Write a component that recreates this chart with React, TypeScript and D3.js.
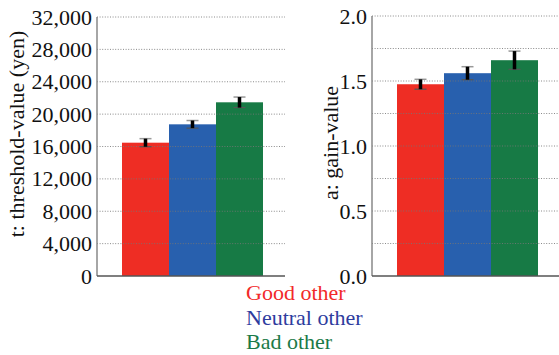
import React, { useRef, useEffect } from "react";
import * as d3 from "d3";

// data
const groups = ["Good other", "Neutral other", "Bad other"];
const thresholdMean = [16470, 18740, 21460];
const thresholdErr = [500, 470, 650];
const gainMean = [1.475, 1.56, 1.66];
const gainErr = [0.038, 0.05, 0.07];
const thresholdTicks = [0, 4000, 8000, 12000, 16000, 20000, 24000, 28000, 32000];
const gainTicks = [0, 0.5, 1.0, 1.5, 2.0];
const gainGrid = [0.25, 0.5, 0.75, 1.0, 1.25, 1.5, 1.75, 2.0];

const barColors = ["#ee2d24", "#2860ae", "#177a45"];
const legendColors = ["#f22a2a", "#2e3c9e", "#1b7a48"];
const FONT = "'Liberation Serif', 'DejaVu Serif', 'Times New Roman', Times, Tinos, FreeSerif, serif";

function drawPanel(g, opts) {
  const { x0, x1, barL, barR, top, bottom, domain, ticks, grid, fmt, means, errs, title, titleX, titleY } = opts;
  const y = d3.scaleLinear().domain(domain).range([bottom, top]);
  const x = d3.scaleBand().domain(groups).range([barL, barR]).padding(0);

  // bars
  g.selectAll(".bar")
    .data(means)
    .join("rect")
    .attr("class", "bar")
    .attr("x", (d, i) => x(groups[i]))
    .attr("y", (d) => y(d))
    .attr("width", x.bandwidth())
    .attr("height", (d) => bottom - y(d))
    .attr("fill", (d, i) => barColors[i]);

  // dotted grid on top
  g.selectAll(".grid")
    .data(grid)
    .join("line")
    .attr("class", "grid")
    .attr("x1", x0)
    .attr("x2", x1)
    .attr("y1", (d) => y(d))
    .attr("y2", (d) => y(d))
    .attr("stroke", "#777")
    .attr("stroke-width", 1)
    .attr("stroke-dasharray", "1,1.6")
    .attr("opacity", 0.85);

  // error bars
  const eb = g.selectAll(".err").data(means).join("g").attr("class", "err");
  eb.append("line")
    .attr("x1", (d, i) => x(groups[i]) + x.bandwidth() / 2 - 6)
    .attr("x2", (d, i) => x(groups[i]) + x.bandwidth() / 2 + 6)
    .attr("y1", (d, i) => y(d + errs[i]))
    .attr("y2", (d, i) => y(d + errs[i]))
    .attr("stroke", "#999")
    .attr("stroke-width", 1.5);
  eb.append("line")
    .attr("x1", (d, i) => x(groups[i]) + x.bandwidth() / 2 - 6)
    .attr("x2", (d, i) => x(groups[i]) + x.bandwidth() / 2 + 6)
    .attr("y1", (d, i) => y(d - errs[i]))
    .attr("y2", (d, i) => y(d - errs[i]))
    .attr("stroke", "#555")
    .attr("stroke-width", 1.2);
  eb.append("line")
    .attr("x1", (d, i) => x(groups[i]) + x.bandwidth() / 2)
    .attr("x2", (d, i) => x(groups[i]) + x.bandwidth() / 2)
    .attr("y1", (d, i) => y(d + errs[i]))
    .attr("y2", (d, i) => y(d - errs[i]))
    .attr("stroke", "#000")
    .attr("stroke-width", 3.5);

  // y axis
  const axis = d3.axisLeft(y).tickValues(ticks).tickFormat(fmt).tickSize(0).tickPadding(5);
  const ag = g.append("g").attr("transform", `translate(${x0},0)`).call(axis);
  ag.select(".domain").remove();
  ag.attr("font-family", null).attr("font-size", null);
  ag.selectAll("text")
    .style("font-family", FONT)
    .style("font-size", "22px")
    .attr("fill", "#111");
  g.append("line")
    .attr("x1", x0).attr("x2", x0)
    .attr("y1", top).attr("y2", bottom)
    .attr("stroke", "#888").attr("stroke-width", 1.5);
  g.append("line")
    .attr("x1", x0).attr("x2", x1)
    .attr("y1", bottom).attr("y2", bottom)
    .attr("stroke", "#555").attr("stroke-width", 1.5);

  g.append("text")
    .attr("transform", `translate(${titleX},${titleY}) rotate(-90)`)
    .attr("text-anchor", "middle")
    .style("font-family", FONT)
    .style("font-size", "22px")
    .attr("fill", "#111")
    .text(title);
}

function App() {
  const svgRef = useRef(null);
  useEffect(() => {
    const svg = d3.select(svgRef.current);
    svg.selectAll("*").remove();

    drawPanel(svg.append("g"), {
      x0: 97, x1: 285, barL: 122, barR: 263, top: 17, bottom: 276,
      domain: [0, 32000], ticks: thresholdTicks, grid: thresholdTicks.slice(1),
      fmt: d3.format(","), means: thresholdMean, errs: thresholdErr,
      title: "t: threshold-value (yen)", titleX: 24, titleY: 134,
    });
    drawPanel(svg.append("g"), {
      x0: 372, x1: 559, barL: 397, barR: 538, top: 16, bottom: 276,
      domain: [0, 2], ticks: gainTicks, grid: gainGrid,
      fmt: d3.format(".1f"), means: gainMean, errs: gainErr,
      title: "a: gain-value", titleX: 338, titleY: 143,
    });

    svg.selectAll(".legend")
      .data(groups)
      .join("text")
      .attr("class", "legend")
      .attr("x", 246)
      .attr("y", (d, i) => 300 + i * 24.5)
      .style("font-family", FONT)
      .style("font-size", "22px")
      .attr("fill", (d, i) => legendColors[i])
      .text((d) => d);
  }, []);

  return (
    <svg
      ref={svgRef}
      width={559}
      height={355}
      style={{ position: "absolute", left: 0, top: 0, background: "#fff" }}
    />
  );
}

export default App;
